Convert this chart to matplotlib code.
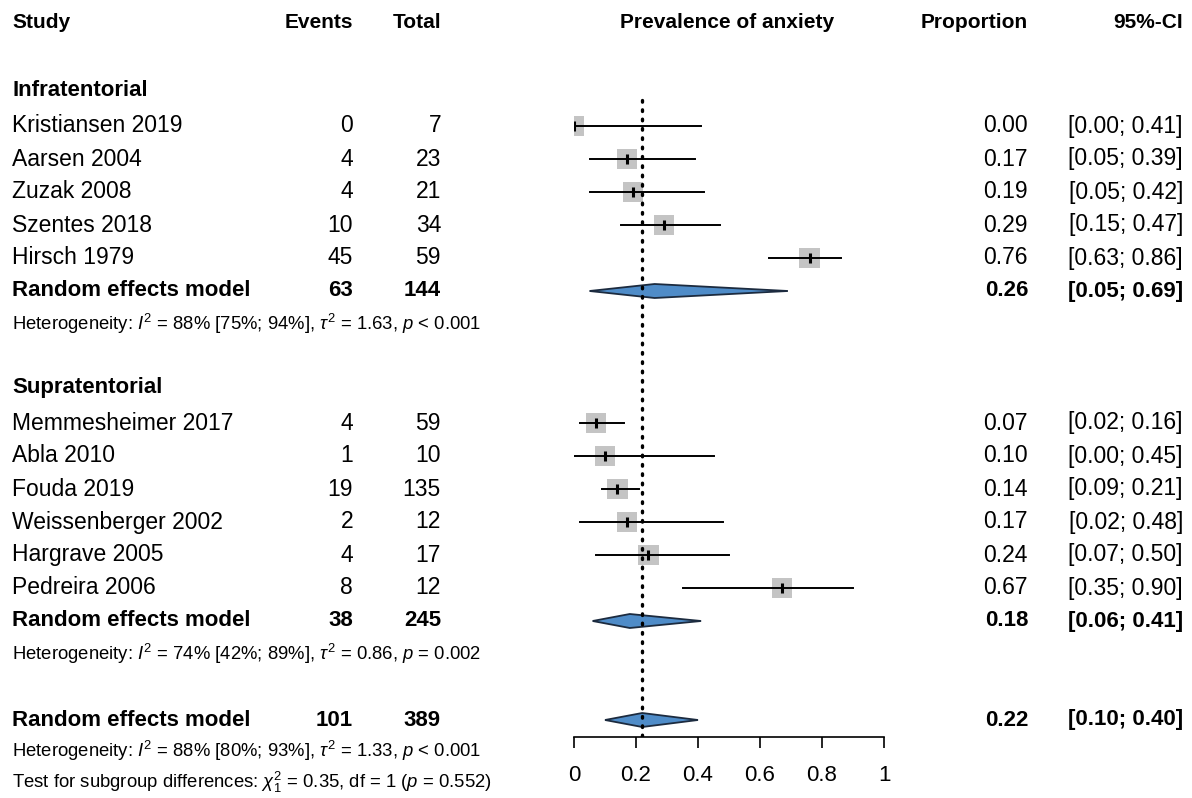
import matplotlib
matplotlib.use("Agg")
import matplotlib.pyplot as plt
from matplotlib.patches import Polygon

plt.rcParams['font.family'] = ['Liberation Sans', 'DejaVu Sans']
plt.rcParams['mathtext.fontset'] = 'custom'
plt.rcParams['mathtext.rm'] = 'Liberation Sans'
plt.rcParams['mathtext.it'] = 'Liberation Sans:italic'

# study level data
group_names = ["Infratentorial", "Supratentorial"]
studies = [
    ["Kristiansen 2019", "Aarsen 2004", "Zuzak 2008", "Szentes 2018", "Hirsch 1979"],
    ["Memmesheimer 2017", "Abla 2010", "Fouda 2019", "Weissenberger 2002",
     "Hargrave 2005", "Pedreira 2006"],
]
events = [[0, 4, 4, 10, 45], [4, 1, 19, 2, 4, 8]]
totals = [[7, 23, 21, 34, 59], [59, 10, 135, 12, 17, 12]]
props = [[0.00, 0.17, 0.19, 0.29, 0.76], [0.07, 0.10, 0.14, 0.17, 0.24, 0.67]]
ci_lo = [[0.00, 0.05, 0.05, 0.15, 0.63], [0.02, 0.00, 0.09, 0.02, 0.07, 0.35]]
ci_hi = [[0.41, 0.39, 0.42, 0.47, 0.86], [0.16, 0.45, 0.21, 0.48, 0.50, 0.90]]

# pooled (random effects) per subgroup
grp_events = [63, 38]
grp_totals = [144, 245]
grp_prop = [0.26, 0.18]
grp_lo = [0.05, 0.06]
grp_hi = [0.69, 0.41]
grp_het = [
    r"Heterogeneity: $I^2$ = 88% [75%; 94%], $\tau^2$ = 1.63, $p$ < 0.001",
    r"Heterogeneity: $I^2$ = 74% [42%; 89%], $\tau^2$ = 0.86, $p$ = 0.002",
]

# overall
all_events = 101
all_total = 389
all_prop = 0.22
all_lo = 0.10
all_hi = 0.40
all_het = r"Heterogeneity: $I^2$ = 88% [80%; 93%], $\tau^2$ = 1.33, $p$ < 0.001"
subgroup_test = r"Test for subgroup differences: $\chi^2_1$ = 0.35, df = 1 ($p$ = 0.552)"

x_ticks = [0, 0.2, 0.4, 0.6, 0.8, 1]

W, H = 1192, 798
fig = plt.figure(figsize=(W / 100, H / 100), dpi=100)
fig.patch.set_facecolor('white')

# text layer in pixel coords
ax_t = fig.add_axes([0, 0, 1, 1])
ax_t.set_xlim(0, W)
ax_t.set_ylim(H, 0)
ax_t.axis('off')

# forest layer: x = proportion, y = pixel rows, bottom edge = axis line
axis_y = 737
ax_f = fig.add_axes([574 / W, (H - axis_y) / H, 310 / W, axis_y / H])
ax_f.set_xlim(0, 1)
ax_f.set_ylim(axis_y, 0)
ax_f.patch.set_alpha(0)
for s in ['top', 'left', 'right']:
    ax_f.spines[s].set_visible(False)
ax_f.spines['bottom'].set_linewidth(1.2)
ax_f.set_yticks([])
ax_f.set_xticks(x_ticks)
ax_f.set_xticklabels([f"{t:g}" for t in x_ticks])
ax_f.tick_params(axis='x', length=8, width=1.2, labelsize=16, pad=12)


def row_y(r):
    return 27 + 33 * r


COL_STUDY, COL_EV, COL_TOT, COL_PROP, COL_CI = 12, 353, 441, 1028, 1183
FS = 16.5
FS_BOLD = 16
FS_SMALL = 13.3

# header
hy = 22
ax_t.text(COL_STUDY, hy, "Study", fontsize=15, fontweight='bold', va='center')
ax_t.text(COL_EV, hy, "Events", fontsize=15, fontweight='bold', va='center', ha='right')
ax_t.text(COL_TOT, hy, "Total", fontsize=15, fontweight='bold', va='center', ha='right')
ax_t.text(727, hy, "Prevalence of anxiety", fontsize=15, fontweight='bold',
          va='center', ha='center')
ax_t.text(COL_PROP, hy, "Proportion", fontsize=15, fontweight='bold', va='center', ha='right')
ax_t.text(COL_CI, hy, "95%-CI", fontsize=15, fontweight='bold', va='center', ha='right')

sq_color = '#c4c4c4'
dia_fill = '#4f8cc8'
dia_edge = '#1c2b3f'


def diamond(y, lo, est, hi, h=7):
    ax_f.add_patch(Polygon([(lo, y), (est, y - h), (hi, y), (est, y + h)],
                           closed=True, facecolor=dia_fill, edgecolor=dia_edge,
                           linewidth=1.3, zorder=3))


def value_cols(y, ev, tot, p, lo, hi, bold=False):
    w = 'bold' if bold else 'normal'
    fs = FS_BOLD if bold else FS
    ax_t.text(COL_EV, y, str(ev), fontsize=fs, fontweight=w, va='center', ha='right')
    ax_t.text(COL_TOT, y, str(tot), fontsize=fs, fontweight=w, va='center', ha='right')
    ax_t.text(COL_PROP, y, f"{p:.2f}", fontsize=fs, fontweight=w, va='center', ha='right')
    ax_t.text(COL_CI, y, f"[{lo:.2f}; {hi:.2f}]", fontsize=fs, fontweight=w,
              va='center', ha='right')


r = 2
for g in range(len(group_names)):
    ax_t.text(COL_STUDY, row_y(r) - 3, group_names[g], fontsize=FS_BOLD,
              fontweight='bold', va='center')
    r += 1
    for i, name in enumerate(studies[g]):
        y = row_y(r)
        ax_t.text(COL_STUDY, y, name, fontsize=FS, va='center')
        value_cols(y, events[g][i], totals[g][i], props[g][i], ci_lo[g][i], ci_hi[g][i])
        ax_f.plot([ci_lo[g][i], ci_hi[g][i]], [y, y], color='black', lw=1.4, zorder=2)
        ax_f.scatter([props[g][i]], [y], marker='s', s=215, color=sq_color,
                     edgecolor='none', zorder=1)
        ax_f.plot([props[g][i]], [y], marker='|', ms=7, mew=2.2, color='black', zorder=3)
        r += 1
    y = row_y(r)
    ax_t.text(COL_STUDY, y, "Random effects model", fontsize=FS_BOLD, fontweight='bold',
              va='center')
    value_cols(y, grp_events[g], grp_totals[g], grp_prop[g], grp_lo[g], grp_hi[g], bold=True)
    diamond(y, grp_lo[g], grp_prop[g], grp_hi[g])
    r += 1
    ax_t.text(COL_STUDY, row_y(r), grp_het[g], fontsize=FS_SMALL, va='center')
    r += 2

# overall
y = row_y(r)
ax_t.text(COL_STUDY, y, "Random effects model", fontsize=FS_BOLD, fontweight='bold',
          va='center')
value_cols(y, all_events, all_total, all_prop, all_lo, all_hi, bold=True)
diamond(y, all_lo, all_prop, all_hi)
ax_t.text(COL_STUDY, y + 31, all_het, fontsize=FS_SMALL, va='center')
ax_t.text(COL_STUDY, y + 62, subgroup_test, fontsize=FS_SMALL, va='center')

# reference line at pooled estimate
ax_f.plot([all_prop, all_prop], [100, axis_y], color='black', lw=2.4,
          linestyle=(0, (0.5, 2.3)), dash_capstyle='round', zorder=4)

fig.savefig("out.png", dpi=100, facecolor='white')
